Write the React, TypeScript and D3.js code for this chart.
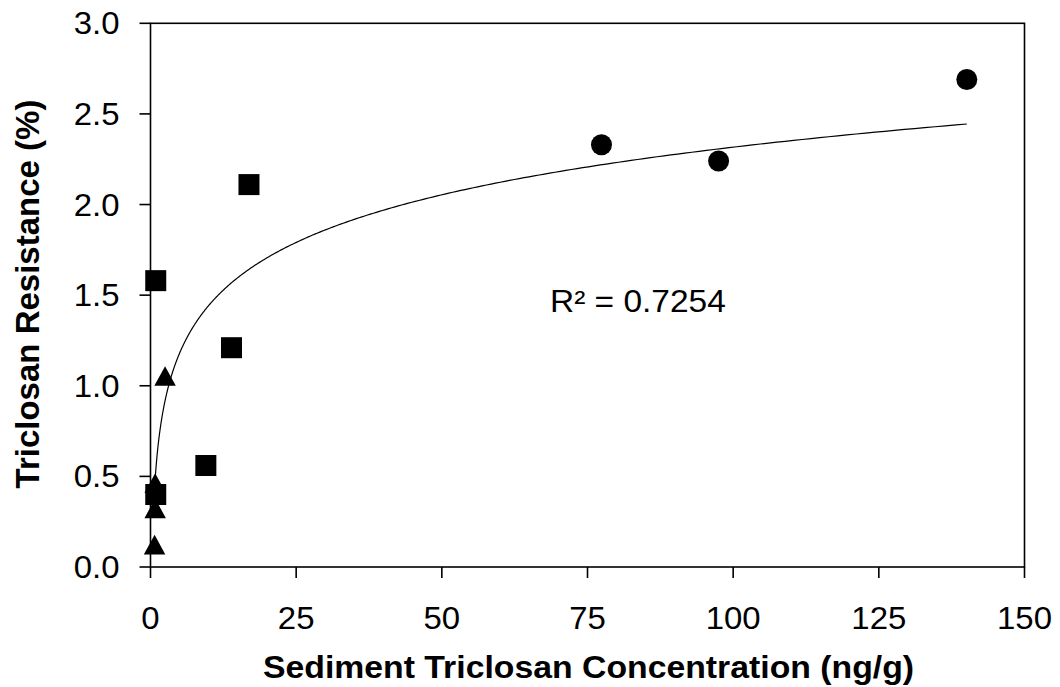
import React from "react";
import * as d3 from "d3";

const triangleX = [0.7, 0.8, 0.8, 2.5];
const triangleY = [0.10, 0.30, 0.44, 1.03];
const squareX = [0.9, 13.9, 9.5, 0.9, 16.9];
const squareY = [1.58, 1.21, 0.56, 0.40, 2.11];
const circleX = [77.4, 97.5, 140.1];
const circleY = [2.33, 2.24, 2.69];

const xTicks = [0, 25, 50, 75, 100, 125, 150];
const yTicks = [0, 0.5, 1.0, 1.5, 2.0, 2.5, 3.0];
const r2Label = "R² = 0.7254";
const xTitle = "Sediment Triclosan Concentration (ng/g)";
const yTitle = "Triclosan Resistance (%)";

const W = 1060, H = 687;
const L = 150.5, R = 1024.5, T = 23.3, B = 567;
const FONT = "Liberation Sans, Arial, sans-serif";
const SX = 1.08;

export default function App() {
  const x = d3.scaleLinear().domain([0, 150]).range([L, R]);
  const y = d3.scaleLinear().domain([0, 3]).range([B, T]);

  // logarithmic least-squares fit on all points
  const allX = [...triangleX, ...squareX, ...circleX];
  const allY = [...triangleY, ...squareY, ...circleY];
  const lx = allX.map(Math.log);
  const mx = d3.mean(lx)!, my = d3.mean(allY)!;
  let sxy = 0, sxx = 0;
  lx.forEach((v, i) => { sxy += (v - mx) * (allY[i] - my); sxx += (v - mx) ** 2; });
  const a = sxy / sxx, b = my - a * mx;
  const x0 = d3.min(allX)!, x1 = d3.max(allX)!;
  const pts: [number, number][] = d3.range(0, 401).map(i => {
    const xv = x0 * Math.pow(x1 / x0, i / 400);
    return [xv, a * Math.log(xv) + b];
  });
  const line = d3.line<[number, number]>().x(d => x(d[0])).y(d => y(d[1]));

  const s = 21;
  const tri = d3.symbol().type(d3.symbolTriangle).size(200)()!;

  return (
    <svg width={W} height={H} style={{ position: "absolute", left: 0, top: 0, background: "#fff" }}>
      <rect x={0} y={0} width={W} height={H} fill="#fff" />
      <rect x={L} y={T} width={R - L} height={B - T} fill="none" stroke="#000" strokeWidth={1.6} />
      {yTicks.map(t => (
        <g key={"y" + t}>
          <line x1={L - 11} x2={L} y1={y(t)} y2={y(t)} stroke="#000" strokeWidth={1.6} />
          <g transform={`translate(${L - 31},${y(t) + 11}) scale(${SX},1)`}>
            <text textAnchor="end" fontFamily={FONT} fontSize={30.5} fill="#000">{t.toFixed(1)}</text>
          </g>
        </g>
      ))}
      {xTicks.map(t => (
        <g key={"x" + t}>
          <line x1={x(t)} x2={x(t)} y1={B} y2={B + 11} stroke="#000" strokeWidth={1.6} />
          <g transform={`translate(${x(t)},${629}) scale(${SX},1)`}>
            <text textAnchor="middle" fontFamily={FONT} fontSize={30.5} fill="#000">{t}</text>
          </g>
        </g>
      ))}
      <path d={line(pts)!} fill="none" stroke="#000" strokeWidth={1.2} />
      {triangleX.map((v, i) => (
        <path key={"t" + i} d={tri} transform={`translate(${x(v)},${y(triangleY[i]) - 1}) scale(1.0,1.05)`} fill="#000" />
      ))}
      {squareX.map((v, i) => (
        <rect key={"s" + i} x={x(v) - s / 2} y={y(squareY[i]) - s / 2} width={s} height={s} fill="#000" />
      ))}
      {circleX.map((v, i) => (
        <circle key={"c" + i} cx={x(v)} cy={y(circleY[i])} r={10.5} fill="#000" />
      ))}
      <g transform={`translate(550,312) scale(${SX},1)`}>
        <text fontFamily={FONT} fontSize={31} fill="#000">{r2Label}</text>
      </g>
      <g transform={`translate(588.5,678) scale(1.09,1)`}>
        <text textAnchor="middle" fontFamily={FONT} fontSize={31} fontWeight="bold" fill="#000">{xTitle}</text>
      </g>
      <g transform={`translate(39,294) rotate(-90)`}>
        <text textAnchor="middle" fontFamily={FONT} fontSize={33} fontWeight="bold" fill="#000">{yTitle}</text>
      </g>
    </svg>
  );
}
